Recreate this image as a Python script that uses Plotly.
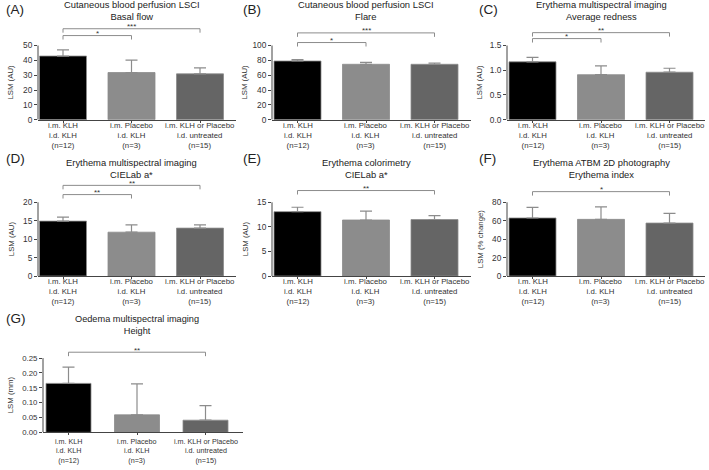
import plotly.graph_objects as go

W, H = 709, 470

# ---------------- data ----------------
group_lines = [
    ["i.m. KLH", "i.d. KLH", "(n=12)"],
    ["i.m. Placebo", "i.d. KLH", "(n=3)"],
    ["i.m. KLH or Placebo", "i.d. untreated", "(n=15)"],
]
categories = ["<br>".join(g) for g in group_lines]
bar_colors = ["#000000", "#8c8c8c", "#656565"]

letters = ["(A)", "(B)", "(C)", "(D)", "(E)", "(F)", "(G)"]
titles = [
    ("Cutaneous blood perfusion LSCI", "Basal flow"),
    ("Cutaneous blood perfusion LSCI", "Flare"),
    ("Erythema multispectral imaging", "Average redness"),
    ("Erythema multispectral imaging", "CIELab a*"),
    ("Erythema colorimetry", "CIELab a*"),
    ("Erythema ATBM 2D photography", "Erythema index"),
    ("Oedema multispectral imaging", "Height"),
]
ytitles = ["LSM (AU)", "LSM (AU)", "LSM (AU)", "LSM (AU)", "LSM (AU)", "LSM (% change)", "LSM (mm)"]

means_A = [42.9, 31.8, 30.9]
err_A = [4.2, 8.4, 4.0]
means_B = [79.1, 74.7, 74.7]
err_B = [1.8, 2.6, 1.7]
means_C = [1.17, 0.91, 0.96]
err_C = [0.09, 0.18, 0.08]
means_D = [14.9, 11.9, 13.0]
err_D = [1.1, 2.0, 0.9]
means_E = [13.1, 11.4, 11.5]
err_E = [0.9, 1.8, 0.8]
means_F = [63.0, 61.5, 57.5]
err_F = [11.5, 13.5, 10.5]
means_G = [0.165, 0.059, 0.041]
err_G = [0.055, 0.104, 0.049]

yticks_A = [0, 10, 20, 30, 40, 50]
yticks_B = [0, 20, 40, 60, 80, 100]
yticks_C = [0.0, 0.5, 1.0, 1.5]
yticks_D = [0, 5, 10, 15, 20]
yticks_E = [0, 5, 10, 15]
yticks_F = [0, 20, 40, 60, 80]
yticks_G = [0.00, 0.05, 0.10, 0.15, 0.20, 0.25]
ytick_fmt = ["", "", ".1f", "", "", "", ".2f"]

# significance brackets: (from group, to group, label, level in data units)
brackets_A = [(0, 1, "*", 56.7), (0, 2, "***", 61.3)]
brackets_B = [(0, 1, "*", 104), (0, 2, "***", 117)]
brackets_C = [(0, 1, "*", 1.64), (0, 2, "**", 1.76)]
brackets_D = [(0, 1, "**", 22.1), (0, 2, "**", 24.6)]
brackets_E = [(0, 2, "**", 17.4)]
brackets_F = [(0, 2, "*", 91.6)]
brackets_G = [(0, 2, "**", 0.27)]

panels_means = [means_A, means_B, means_C, means_D, means_E, means_F, means_G]
panels_err = [err_A, err_B, err_C, err_D, err_E, err_F, err_G]
panels_ticks = [yticks_A, yticks_B, yticks_C, yticks_D, yticks_E, yticks_F, yticks_G]
panels_br = [brackets_A, brackets_B, brackets_C, brackets_D, brackets_E, brackets_F, brackets_G]

# ---------------- layout geometry (px) ----------------
cols = [dict(axis=38, c0=63, right=236, lx=4),
        dict(axis=272, c0=297.5, right=471, lx=241),
        dict(axis=507, c0=532.5, right=705, lx=477)]
rows = [dict(base=121, top=46, dom_top=24, tmid=11, ly=10, labmid=16),
        dict(base=279, top=204.5, dom_top=183, tmid=170, ly=160, labmid=15.5),
        dict(base=437, top=362, dom_top=349, tmid=328.3, ly=322, labmid=18.5)]
geo = []
for i in range(6):
    g = dict(cols[i % 3]); g.update(rows[i // 3])
    g.update(sp=68.5, bw=47, tfs=8.3, lfs=7.8, ttl=9.4, yshift=-27)
    geo.append(g)
g = dict(axis=43, c0=68.5, right=243, lx=4, sp=68.5, bw=45, tfs=7.8, lfs=7.2, ttl=9.2, yshift=-33)
g.update(rows[2])
geo.append(g)

FONT = "Liberation Sans, Arial, sans-serif"
AXC = "#444444"
TXT = "#333333"
ERRC = "#8c8c8c"

fig = go.Figure()
layout = dict(width=W, height=H, autosize=False, margin=dict(l=0, r=0, t=0, b=0),
              paper_bgcolor="white", plot_bgcolor="white", showlegend=False,
              font=dict(family=FONT, color=TXT))
annotations = []
shapes = []

for i in range(7):
    gm = geo[i]
    n = i + 1
    xa = "x" if n == 1 else f"x{n}"
    ya = "y" if n == 1 else f"y{n}"
    ticks = panels_ticks[i]
    tmax = ticks[-1]
    ymax = tmax * (gm["base"] - gm["dom_top"]) / (gm["base"] - gm["top"])
    px_per_unit = (gm["base"] - gm["top"]) / tmax
    xr = [(gm["axis"] - gm["c0"]) / gm["sp"], (gm["right"] - gm["c0"]) / gm["sp"]]

    fig.add_trace(go.Bar(
        x=categories, y=panels_means[i], xaxis=xa, yaxis=ya,
        width=gm["bw"] / gm["sp"],
        marker=dict(color=bar_colors, line=dict(color=ERRC, width=0.8)),
        error_y=dict(type="data", symmetric=False, array=panels_err[i],
                     arrayminus=[0, 0, 0], color=ERRC, thickness=1.2, width=6),
        hoverinfo="skip",
    ))

    # brackets
    drop = 4 / px_per_unit
    for (a, b, lab, lvl) in panels_br[i]:
        fig.add_trace(go.Scatter(
            x=[categories[a], categories[a], categories[b], categories[b]],
            y=[lvl - drop, lvl, lvl, lvl - drop],
            mode="lines", line=dict(color=ERRC, width=1),
            xaxis=xa, yaxis=ya, hoverinfo="skip"))
        annotations.append(dict(
            x=(a + b) / 2, y=lvl, xref=xa, yref=ya, text=lab, showarrow=False,
            xanchor="center", yanchor="bottom", yshift=-4.5,
            font=dict(size=8, color=TXT, family=FONT)))

    key = "" if n == 1 else str(n)
    layout["xaxis" + key] = dict(
        domain=[gm["axis"] / W, gm["right"] / W], anchor=ya, type="category",
        range=xr, showline=True, linecolor=AXC, linewidth=1, ticks="outside",
        ticklen=2, tickcolor=AXC, showgrid=False, zeroline=False,
        showticklabels=False, fixedrange=True)
    layout["yaxis" + key] = dict(
        domain=[1 - gm["base"] / H, 1 - gm["dom_top"] / H], anchor=xa,
        range=[0, ymax], tickvals=ticks, tickformat=ytick_fmt[i], ticks="outside",
        ticklen=3, tickcolor=AXC, showline=False, showgrid=False, zeroline=False,
        tickfont=dict(size=gm["tfs"], color=TXT, family=FONT), fixedrange=True)

    # category labels (three lines each)
    for ci, cat in enumerate(categories):
        annotations.append(dict(
            x=ci, y=1 - (gm["base"] + gm["labmid"]) / H, xref=xa, yref="paper", text=cat,
            showarrow=False, xanchor="center", yanchor="middle", align="center",
            borderpad=0, font=dict(size=gm["lfs"], color=TXT, family=FONT)))

    # y axis line up to the last tick
    shapes.append(dict(type="line", xref=f"{xa} domain", yref=ya, x0=0, x1=0,
                       y0=0, y1=tmax, line=dict(color=AXC, width=1)))

    # y title
    annotations.append(dict(
        x=0, y=tmax / 2, xref=f"{xa} domain", yref=ya, text=ytitles[i],
        textangle=-90, showarrow=False, xanchor="center", yanchor="middle",
        xshift=gm["yshift"], font=dict(size=7.8, color=TXT, family=FONT)))

    # two-line title
    annotations.append(dict(
        x=1, y=1 - gm["tmid"] / H, xref=xa, yref="paper", text="<br>".join(titles[i]),
        showarrow=False, xanchor="center", yanchor="middle", align="center", borderpad=0,
        font=dict(size=gm["ttl"], color="#222222", family=FONT)))
    annotations.append(dict(
        x=gm["lx"] / W, y=1 - gm["ly"] / H,
        xref="paper", yref="paper", text=letters[i], showarrow=False,
        xanchor="left", yanchor="middle",
        font=dict(size=13.5, color="#222222", family=FONT)))

layout["annotations"] = annotations
layout["shapes"] = shapes
fig.update_layout(**layout)
fig.write_html(
    "out.html",
    config={"displayModeBar": False},
    post_script="document.body.style.margin='0';document.body.style.overflow='hidden';",
)
